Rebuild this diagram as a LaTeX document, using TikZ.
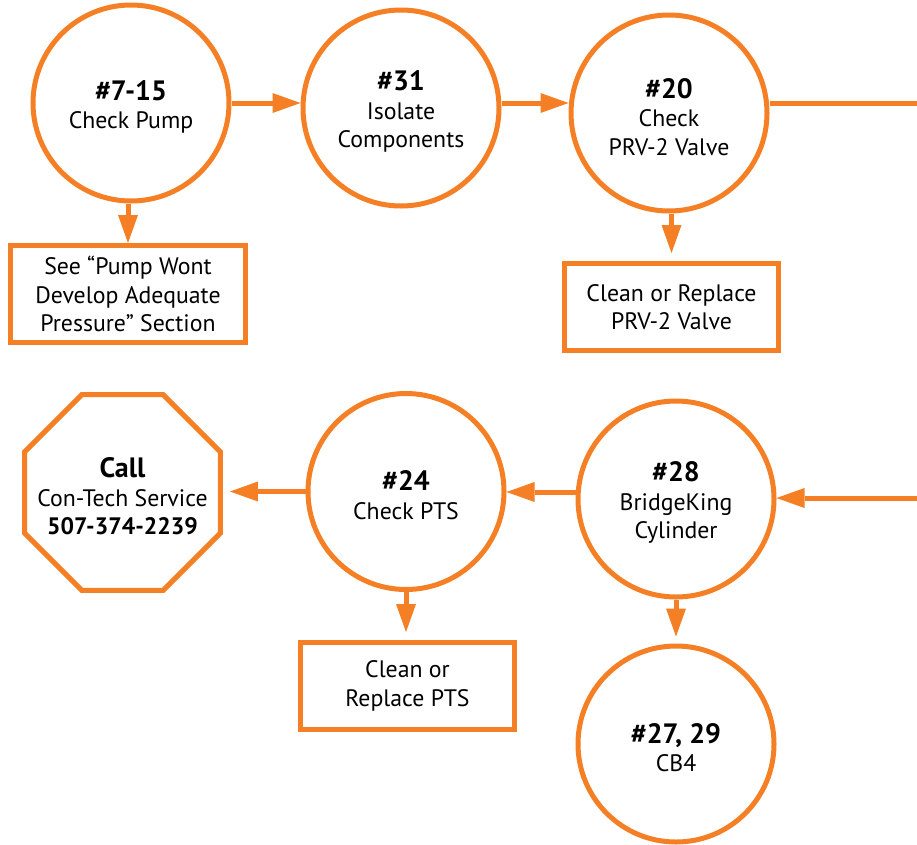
\documentclass[tikz,border=0pt]{standalone}
\usepackage{fontspec}
\setmainfont{PT Sans}
\usetikzlibrary{arrows.meta,shapes.geometric}
\definecolor{brand}{RGB}{244,127,36}
\newcommand\hdr[1]{{\fontsize{28}{29}\selectfont\bfseries\rule{0pt}{27.5pt}#1}}
\begin{document}
\begin{tikzpicture}[x=1pt,y=-1pt,
  every node/.style={font=\fontsize{23.8}{28.5}\selectfont, text=black, align=center, inner sep=0pt},
  ring/.style={circle, draw=brand, line width=5pt, minimum size=196pt},
  rbox/.style={rectangle, draw=brand, line width=5pt},
  octa/.style={regular polygon, regular polygon sides=8, draw=brand, line width=5pt, minimum size=212pt},
  link/.style={draw=brand, line width=5pt},
  arr/.style={link, -{Triangle[length=28pt,width=20pt,line width=0pt]}}
]
\useasboundingbox (0,0) rectangle (917,844);
% top row
\node[ring] (c1) at (131,103) {\hdr{\#7-15}\\Check Pump};
\node[ring] (c2) at (401,108) {\hdr{\#31}\\Isolate\\Components};
\node[ring] (c3) at (669,113) {\hdr{\#20}\\Check\\PRV-2 Valve};
\node[rbox, minimum width=235pt, minimum height=97pt] (b1) at (128,294) {See “Pump Wont\\Develop Adequate\\Pressure” Section};
\node[rbox, minimum width=214pt, minimum height=87pt] (b2) at (671.5,307) {Clean or Replace\\PRV-2 Valve};
% bottom row
\node[octa] (oct) at (122.5,492.5) {};
\node (octtxt) at (oct.center) {\hdr{Call}\\Con-Tech Service\\{\bfseries 507-374-2239}};
\node[ring] (c24) at (406,491.5) {\hdr{\#24}\\Check PTS};
\node[ring] (c28) at (676,499) {\hdr{\#28}\\BridgeKing\\Cylinder};
\node[ring] (c27) at (676,744) {\hdr{\#27, 29}\\CB4};
\node[rbox, minimum width=214pt, minimum height=87pt] (b3) at (407.5,686) {Clean or\\Replace PTS};
\coordinate (outR) at (917,103.5);
\coordinate (inR) at (917,498);
% connectors
\draw[arr] (c1.east) -- (c1.east -| c2.west);
\draw[arr] (c2.east |- c1.east) -- (c3.west |- c1.east);
\draw[link] (c3.east |- outR) -- (outR);
\draw[arr] (c1.south -| b1.north) -- (b1.north);
\draw[arr, shorten >=8pt] (b2.north |- c3.south) -- (b2.north);
\draw[arr] (inR) -- (inR -| c28.east);
\draw[arr] (c28.176.5) -- (c28.176.5 -| c24.east);
\draw[arr, shorten >=7pt] (c24.west) -- (c24.west -| oct.east);
\draw[arr, shorten >=8pt] (c24.south) -- (c24.south |- b3.north);
\draw[arr, shorten >=7pt] (c28.south) -- (c28.south |- c27.north);
\end{tikzpicture}
\end{document}
